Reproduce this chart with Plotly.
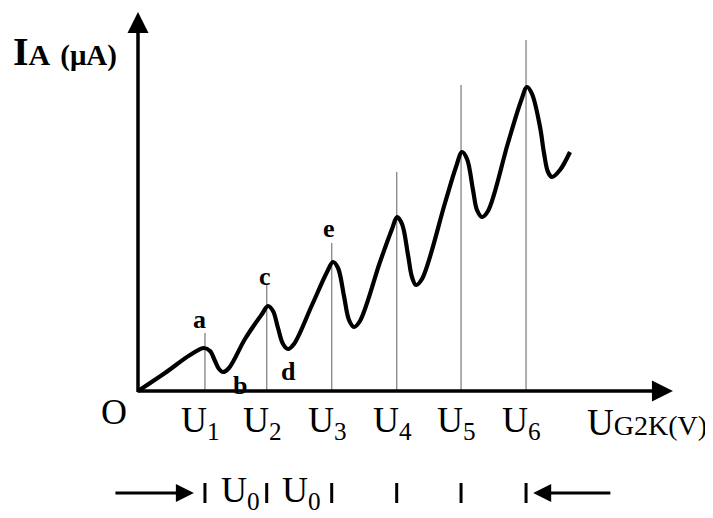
import plotly.graph_objects as go

# ---- data (arbitrary units) ----
# accelerating voltage U (units ~U0) and anode current IA along the curve
curve_u = [0.000, 0.415, 0.800, 1.015, 1.108, 1.185, 1.246, 1.308, 1.400,
           1.646, 1.908, 2.000, 2.077, 2.154, 2.231, 2.308, 2.400, 2.677, 2.908,
           3.000, 3.077, 3.169, 3.246, 3.323, 3.415, 3.723, 3.908, 3.985, 4.062,
           4.154, 4.215, 4.277, 4.369, 4.723, 4.892, 4.985, 5.062, 5.154, 5.215,
           5.292, 5.385, 5.692, 5.892, 5.985, 6.062, 6.185, 6.246, 6.308, 6.369,
           6.492, 6.646]
curve_i = [0.0, 1.8, 3.6, 4.3, 4.0, 3.0, 2.2, 1.9, 2.3,
           5.2, 7.7, 8.5, 8.0, 6.3, 4.7, 4.2, 4.7, 8.6, 11.9,
           12.9, 12.3, 9.5, 7.1, 6.4, 7.0, 12.9, 16.2, 17.4, 16.7,
           13.6, 11.4, 10.6, 11.2, 18.8, 22.4, 23.9, 23.2, 20.1, 18.1,
           17.4, 18.0, 24.8, 29.0, 30.4, 29.7, 26.4, 23.8, 21.9, 21.4,
           22.1, 23.9]
peak_u = [1.03, 1.98, 2.98, 3.98, 4.97, 5.97]          # U1..U6
guide_top = [5.8, 10.6, 14.8, 21.9, 30.6, 35.1]       # height of thin guide lines
tick_labels = ["U<sub>1</sub>", "U<sub>2</sub>", "U<sub>3</sub>",
               "U<sub>4</sub>", "U<sub>5</sub>", "U<sub>6</sub>"]
point_labels = ["a", "b", "c", "d", "e"]
u0_label = "U<sub>0</sub>"

SERIF = "Liberation Serif"
fig = go.Figure()

# thin guide lines at U1..U6
gx, gy = [], []
for u, h in zip(peak_u, guide_top):
    gx += [u, u, None]
    gy += [0, h, None]
fig.add_trace(go.Scatter(x=gx, y=gy, mode="lines",
                         line=dict(color="#8c8c8c", width=1.4),
                         hoverinfo="skip", showlegend=False))

# main curve
fig.add_trace(go.Scatter(x=curve_u, y=curve_i, mode="lines",
                         line=dict(color="black", width=4.2, shape="spline", smoothing=1.0),
                         hoverinfo="skip", showlegend=False))

# bottom-row tick marks at U1..U6
tx, ty = [], []
for u in peak_u:
    tx += [u, u, None]
    ty += [-9.2, -11.2, None]
fig.add_trace(go.Scatter(x=tx, y=ty, mode="lines",
                         line=dict(color="black", width=3),
                         hoverinfo="skip", showlegend=False))

ann = []
def arrow(x0, y0, x1, y1, w):
    ann.append(dict(x=x1, y=y1, ax=x0, ay=y0, xref="x", yref="y", axref="x", ayref="y",
                    text="", showarrow=True, arrowhead=2, arrowsize=1.2, arrowwidth=w,
                    arrowcolor="black", standoff=0, startstandoff=0))

# axes
arrow(0, -0.25, 0, 37.9, 3.5)
arrow(-0.03, 0, 8.23, 0, 3.5)
# bottom arrows
arrow(-0.37, -10.2, 0.86, -10.2, 3)
arrow(7.29, -10.2, 6.08, -10.2, 3)

def txt(x, y, s, size, bold=False, xanchor="center"):
    ann.append(dict(x=x, y=y, xref="x", yref="y", text=s, showarrow=False,
                    xanchor=xanchor, yanchor="middle",
                    font=dict(family=SERIF, size=size, color="black",
                              weight="bold" if bold else "normal")))

# axis titles
ann.append(dict(x=-1.96, y=34.0, xref="x", yref="y", showarrow=False, xanchor="left",
                yanchor="middle",
                text="I<span style='font-size:30px'>A</span> <span style='font-size:29px'>(μA)</span>",
                font=dict(family=SERIF, size=40, color="black", weight="bold")))
ann.append(dict(x=(585 - 138) / 65, y=-3.1, xref="x", yref="y", showarrow=False,
                xanchor="left", yanchor="middle",
                text="U<span style='font-size:28px'>G2K(V)</span>",
                font=dict(family=SERIF, size=37, color="black")))
txt(-0.37, -2.1, "O", 36)

# U1..U6 labels
for u, s in zip(peak_u, tick_labels):
    txt(u - 0.07, -3.1, s, 36)

# a..e letters
letter_pos = [(0.95, 7.2), (1.57, 0.6), (1.95, 11.5), (2.31, 2.0), (2.94, 16.3)]
for (x, y), s in zip(letter_pos, point_labels):
    txt(x, y, s, 26, bold=True)

# U0 labels in bottom row
txt(1.57, -10.1, u0_label, 36)
txt(2.52, -10.1, u0_label, 36)

# page body has an 8px margin: figure is 705x510 and placed at (8, 8)
fig.update_layout(
    width=705, height=510,
    margin=dict(l=0, r=0, t=0, b=0),
    paper_bgcolor="white", plot_bgcolor="white",
    xaxis=dict(range=[-2.0, -2.0 + 705 / 65], visible=False, fixedrange=True),
    yaxis=dict(range=[38.3 - 51.0, 38.3], visible=False, fixedrange=True),
    annotations=ann,
    showlegend=False,
)
fig.write_html("out.html")
